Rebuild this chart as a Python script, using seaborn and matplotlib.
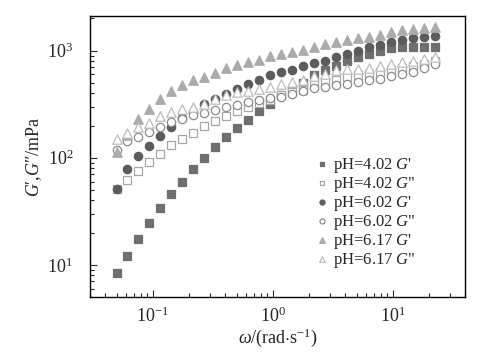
import numpy as np
import pandas as pd
import matplotlib
matplotlib.use("Agg")
import matplotlib.pyplot as plt
import seaborn as sns

# angular frequency, rad/s
omega = [0.050, 0.0617, 0.0762, 0.0940, 0.116, 0.143, 0.177, 0.218, 0.269, 0.332,
         0.410, 0.506, 0.624, 0.770, 0.951, 1.173, 1.448, 1.787, 2.206, 2.722,
         3.360, 4.147, 5.118, 6.316, 7.796, 9.621, 11.87, 14.65, 18.09, 22.32]

# moduli, mPa
g1_402 = [8.4, 12.1, 17.4, 24.5, 33.7, 45.4, 60, 78, 100, 125,
          156, 190, 227, 272, 316, 383, 435, 495, 587, 660,
          726, 796, 867, 932, 1000, 1055, 1073, 1085, 1089, 1090]
g2_402 = [50.6, 62.5, 75.8, 91.8, 109, 132, 150, 172, 198, 221,
          248, 272, 295, 321, 344, 383, 411, 426, 474, 509,
          527, 566, 587, 608, 630, 663, 692, 726, 753, 808]
g1_602 = [50.6, 78.5, 103, 129, 160, 192, 233, 268, 316, 352,
          391, 435, 484, 535, 587, 630, 663, 711, 763, 808,
          867, 932, 1000, 1073, 1129, 1194, 1256, 1300, 1328, 1357]
g2_602 = [119, 142, 157, 175, 192, 215, 230, 250, 263, 282,
          299, 310, 332, 344, 359, 370, 391, 417, 445, 457,
          474, 492, 509, 527, 547, 574, 600, 630, 692, 753]
g1_617 = [112, 163, 230, 288, 357, 417, 474, 527, 566, 622,
          692, 742, 791, 826, 886, 932, 964, 1015, 1089, 1153,
          1194, 1256, 1312, 1348, 1406, 1477, 1555, 1607, 1643, 1668]
g2_617 = [149, 169, 192, 210, 245, 268, 288, 299, 316, 350,
          383, 411, 420, 442, 457, 492, 509, 527, 574, 608,
          653, 668, 680, 695, 726, 753, 780, 808, 838, 880]

labels = ["pH=4.02 $G$'", 'pH=4.02 $G$"', "pH=6.02 $G$'",
          'pH=6.02 $G$"', "pH=6.17 $G$'", 'pH=6.17 $G$"']
series = [g1_402, g2_402, g1_602, g2_602, g1_617, g2_617]

# marker, face, edge, size
styles = [("s", "#6f6f6f", "#6f6f6f", 28),
          ("s", "white", "#a8a8a8", 28),
          ("o", "#5c5c5c", "#5c5c5c", 36),
          ("o", "white", "#8c8c8c", 36),
          ("^", "#ababab", "#ababab", 46),
          ("^", "white", "#bdbdbd", 46)]

sns.set_style("ticks")
plt.rcParams["font.family"] = ["Liberation Serif", "DejaVu Serif"]
plt.rcParams["mathtext.fontset"] = "custom"
plt.rcParams["mathtext.rm"] = "Liberation Serif"
plt.rcParams["mathtext.it"] = "Liberation Serif:italic"

fig = plt.figure(figsize=(4.78, 3.58), dpi=100)
ax = fig.add_axes([0.188, 0.170, 0.785, 0.785])

for lab, vals, (m, fc, ec, s) in zip(labels, series, styles):
    df = pd.DataFrame({"omega": omega, "G": vals})
    sns.scatterplot(data=df, x="omega", y="G", marker=m, s=s,
                    facecolor=fc, edgecolor=ec, linewidth=0.9,
                    label=lab, ax=ax)

ax.set_xscale("log")
ax.set_yscale("log")
ax.set_xlim(0.03, 40)
ax.set_ylim(5, 2100)

ax.tick_params(which="major", direction="in", length=5, width=0.8,
               labelsize=13, top=False, right=False)
ax.tick_params(axis="y", which="major", pad=12)
ax.tick_params(axis="x", which="major", pad=7)
ax.tick_params(which="minor", direction="in", length=3, width=0.8,
               top=False, right=False)
for sp in ax.spines.values():
    sp.set_linewidth(1.0)
    sp.set_color("black")

ax.set_xlabel(r"$\omega$/(rad$\cdot$s$^{-1}$)", fontsize=13, labelpad=0)
ax.set_ylabel("$G$′,$G$″/mPa", fontsize=13, labelpad=2)

ax.legend(loc="upper left", bbox_to_anchor=(0.565, 0.545), frameon=False,
          fontsize=12, markerscale=0.6, handletextpad=0.15,
          labelspacing=0.0, handlelength=1.0, borderpad=0.2)

fig.savefig("out.png", dpi=100)
